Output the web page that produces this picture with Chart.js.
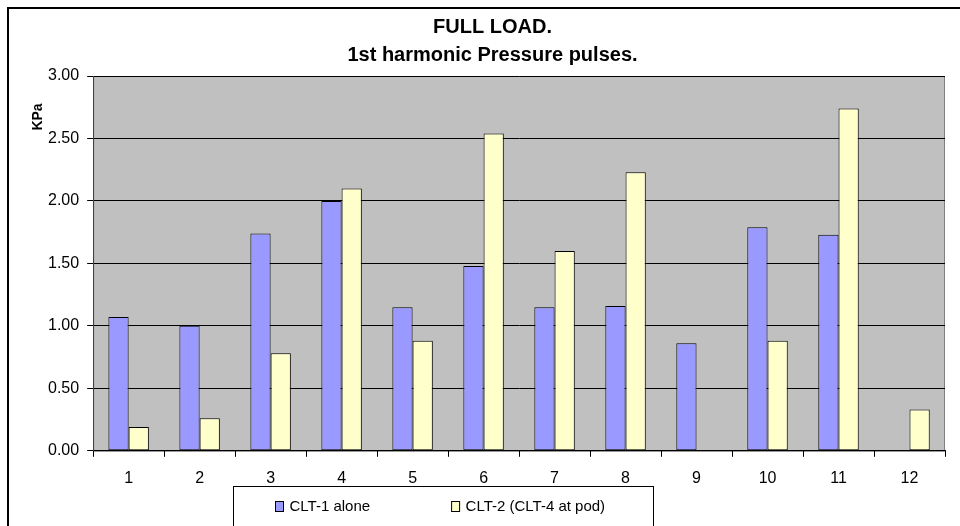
<!DOCTYPE html>
<html>
<head>
<meta charset="utf-8">
<script src="https://cdn.jsdelivr.net/npm/chart.js@4.4.0/dist/chart.umd.min.js"></script>
<style>
  html, body { margin: 0; padding: 0; background: #fff; }
  #wrap { width: 960px; height: 526px; }
</style>
</head>
<body>
<div id="wrap"><canvas id="chart" width="960" height="526"></canvas></div>
<script>
// values
var categories = ["1", "2", "3", "4", "5", "6", "7", "8", "9", "10", "11", "12"];
var clt1Alone = [1.07, 1.00, 1.74, 2.00, 1.15, 1.48, 1.15, 1.16, 0.86, 1.79, 1.73, null];
var clt2Pod = [0.19, 0.26, 0.78, 2.10, 0.88, 2.54, 1.60, 2.23, null, 0.88, 2.74, 0.33];
var seriesNames = ["CLT-1 alone", "CLT-2 (CLT-4 at pod)"];
var yTicks = [0, 0.5, 1, 1.5, 2, 2.5, 3];

var FONT = "'Liberation Sans', Arial, sans-serif";
Chart.defaults.font.family = FONT;
Chart.defaults.color = "#000";

// frame, grey plot area, y-axis title and the boxed legend
var excelLook = {
  id: "excelLook",
  beforeDraw: function (chart) {
    var c = chart.ctx, a = chart.chartArea;
    c.save();
    c.fillStyle = "#fff";
    c.fillRect(0, 0, chart.width, chart.height);
    c.strokeStyle = "#000";
    c.lineWidth = 2;
    c.strokeRect(8, 8, chart.width + 20, chart.height + 20);
    c.fillStyle = "#C0C0C0";
    c.fillRect(a.left, a.top, a.right - a.left, a.bottom - a.top);
    c.strokeStyle = "#808080";
    c.lineWidth = 1;
    c.strokeRect(a.left + 0.5, a.top + 0.5, a.right - a.left - 1, a.bottom - a.top);
    c.restore();
  },
  afterDraw: function (chart) {
    var c = chart.ctx, a = chart.chartArea;
    c.save();
    // y-axis title, near the top of the axis
    c.translate(a.left - 55, a.top + 41);
    c.rotate(-Math.PI / 2);
    c.font = "bold 14px " + FONT;
    c.fillStyle = "#000";
    c.textAlign = "center";
    c.textBaseline = "middle";
    c.fillText("KPa", 0, 0);
    c.restore();

    // legend box
    var bx = 233.5, by = 486.5, bw = 420;
    c.save();
    c.strokeStyle = "#000";
    c.lineWidth = 1;
    c.fillStyle = "#fff";
    c.fillRect(bx, by, bw, 60);
    c.strokeRect(bx, by, bw, 60);
    c.font = "15px " + FONT;
    c.textBaseline = "middle";
    c.textAlign = "left";
    var x = bx + 41.5, yMid = 507;
    chart.data.datasets.forEach(function (ds) {
      c.fillStyle = ds.backgroundColor;
      c.fillRect(x, yMid - 5.5, 9, 10);
      c.strokeRect(x + 0.5, yMid - 5.5, 8, 10);
      c.fillStyle = "#000";
      c.fillText(ds.label, x + 14.5, yMid);
      x += 14.5 + c.measureText(ds.label).width + 81;
    });
    c.restore();
  }
};

new Chart(document.getElementById("chart"), {
  type: "bar",
  data: {
    labels: categories,
    datasets: [
      {
        label: seriesNames[0],
        data: clt1Alone,
        backgroundColor: "#9999FF",
        borderColor: "#000",
        borderWidth: 1,
        borderSkipped: false
      },
      {
        label: seriesNames[1],
        data: clt2Pod,
        backgroundColor: "#FFFFCC",
        borderColor: "#000",
        borderWidth: 1,
        borderSkipped: false
      }
    ]
  },
  options: {
    responsive: false,
    animation: false,
    devicePixelRatio: 1,
    categoryPercentage: 0.57,
    barPercentage: 1,
    layout: { padding: { left: 40, right: 15, top: 0, bottom: 26 } },
    plugins: {
      legend: { display: false },
      tooltip: { enabled: false },
      title: {
        display: true,
        text: ["FULL LOAD.", "1st harmonic Pressure pulses."],
        color: "#000",
        font: { family: FONT, size: 20, weight: "bold", lineHeight: 1.425 },
        padding: { top: 13, bottom: 6 }
      }
    },
    scales: {
      x: {
        grid: { drawOnChartArea: false, drawTicks: true, tickLength: 6, color: "#000", offset: true },
        border: { color: "#000", width: 1 },
        ticks: { font: { size: 16 }, padding: 12, maxRotation: 0 }
      },
      y: {
        min: 0,
        max: 3,
        afterBuildTicks: function (scale) {
          scale.ticks = yTicks.map(function (v) { return { value: v }; });
        },
        grid: { color: "#000", lineWidth: 1, tickLength: 6 },
        border: { color: "#404040", width: 1 },
        ticks: {
          font: { size: 16 },
          padding: 8,
          callback: function (v) { return Number(v).toFixed(2); }
        }
      }
    }
  },
  plugins: [excelLook]
});
</script>
</body>
</html>
